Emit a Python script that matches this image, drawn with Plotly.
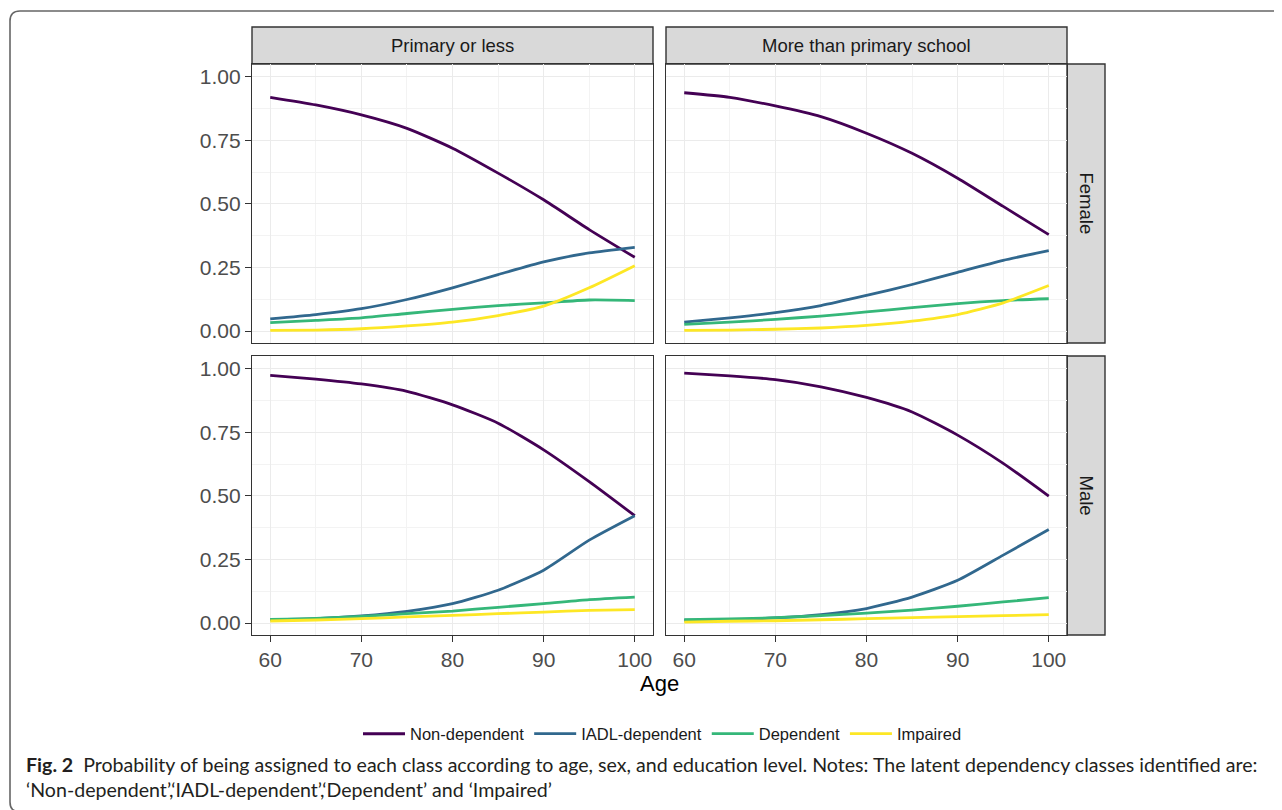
import plotly.graph_objects as go

# ---------------- data ----------------
ages = [60, 65, 70, 75, 80, 85, 90, 95, 100]
classes = ["Non-dependent", "IADL-dependent", "Dependent", "Impaired"]
colors = ["#440154", "#31688E", "#35B779", "#FDE725"]
col_labels = ["Primary or less", "More than primary school"]
row_labels = ["Female", "Male"]
x_ticks = [60, 70, 80, 90, 100]
y_ticks = [0.0, 0.25, 0.5, 0.75, 1.0]
y_tick_labels = ["0.00", "0.25", "0.50", "0.75", "1.00"]

# Female, Primary or less
f_prim_nondep = [0.919, 0.889, 0.850, 0.797, 0.719, 0.621, 0.516, 0.399, 0.290]
f_prim_iadl   = [0.048, 0.065, 0.088, 0.124, 0.170, 0.222, 0.272, 0.307, 0.329]
f_prim_dep    = [0.033, 0.042, 0.052, 0.069, 0.085, 0.100, 0.111, 0.122, 0.120]
f_prim_imp    = [0.003, 0.004, 0.009, 0.020, 0.035, 0.061, 0.098, 0.170, 0.257]
# Female, More than primary school
f_more_nondep = [0.937, 0.919, 0.885, 0.843, 0.778, 0.699, 0.601, 0.490, 0.379]
f_more_iadl   = [0.035, 0.052, 0.072, 0.100, 0.140, 0.183, 0.231, 0.278, 0.316]
f_more_dep    = [0.026, 0.035, 0.046, 0.059, 0.075, 0.092, 0.108, 0.120, 0.127]
f_more_imp    = [0.003, 0.004, 0.007, 0.012, 0.022, 0.039, 0.065, 0.111, 0.179]
# Male, Primary or less
m_prim_nondep = [0.974, 0.959, 0.940, 0.911, 0.858, 0.786, 0.681, 0.556, 0.422]
m_prim_iadl   = [0.013, 0.017, 0.028, 0.046, 0.076, 0.129, 0.208, 0.326, 0.422]
m_prim_dep    = [0.014, 0.018, 0.026, 0.037, 0.047, 0.062, 0.076, 0.092, 0.102]
m_prim_imp    = [0.008, 0.012, 0.017, 0.024, 0.030, 0.037, 0.043, 0.050, 0.053]
# Male, More than primary school
m_more_nondep = [0.983, 0.972, 0.957, 0.929, 0.887, 0.830, 0.739, 0.628, 0.499]
m_more_iadl   = [0.011, 0.013, 0.020, 0.033, 0.057, 0.102, 0.168, 0.267, 0.368]
m_more_dep    = [0.013, 0.016, 0.021, 0.029, 0.039, 0.051, 0.066, 0.083, 0.100]
m_more_imp    = [0.004, 0.007, 0.009, 0.013, 0.017, 0.021, 0.025, 0.029, 0.033]

panels = [
    [[f_prim_nondep, f_prim_iadl, f_prim_dep, f_prim_imp],
     [f_more_nondep, f_more_iadl, f_more_dep, f_more_imp]],
    [[m_prim_nondep, m_prim_iadl, m_prim_dep, m_prim_imp],
     [m_more_nondep, m_more_iadl, m_more_dep, m_more_imp]],
]

caption_bold = "Fig. 2"
caption_line1 = ("Probability of being assigned to each class according to age, sex, and education level. "
                 "Notes: The latent dependency classes identified are:")
caption_line2 = "\u2018Non-dependent\u2019,\u2018IADL-dependent\u2019,\u2018Dependent\u2019 and \u2018Impaired\u2019"

# ---------------- layout geometry (pixels in the page) ----------------
W, H = 1282, 810
OX, OY = 8, 8   # page body margin offset


def X(px):
    return (px - OX) / W


def Y(py):
    return 1 - (py - OY) / H


col_px = [(252, 653), (666, 1067)]
row_px = [(64, 343), (356, 635)]
strip_top = (27, 64)
strip_right = (1067, 1105)

FONT = "Liberation Sans, Arial, sans-serif"
BORDER = "#333333"
GRID = "#EBEBEB"
MINOR = "#F3F3F3"

fig = go.Figure()

for r in range(2):
    for c in range(2):
        idx = r * 2 + c + 1
        xa = "x" if idx == 1 else f"x{idx}"
        ya = "y" if idx == 1 else f"y{idx}"
        for k, cls in enumerate(classes):
            fig.add_trace(go.Scatter(
                x=ages, y=panels[r][c][k], mode="lines",
                line=dict(color=colors[k], width=2.8, shape="spline", smoothing=0.6),
                name=cls, legendgroup=cls, showlegend=(idx == 1),
                xaxis=xa, yaxis=ya, hoverinfo="skip",
            ))
        xkey = "xaxis" if idx == 1 else f"xaxis{idx}"
        ykey = "yaxis" if idx == 1 else f"yaxis{idx}"
        bottom = (r == 1)
        left = (c == 0)
        fig.layout[xkey] = dict(
            domain=[X(col_px[c][0]), X(col_px[c][1])],
            anchor=ya, range=[58, 102],
            tickvals=x_ticks, ticktext=[str(t) for t in x_ticks],
            showticklabels=bottom, ticks="outside" if bottom else "",
            ticklen=6, tickwidth=1.2, tickcolor=BORDER,
            tickfont=dict(family=FONT, size=21, color="#4D4D4D"),
            showgrid=True, gridcolor=GRID, gridwidth=1.4,
            minor=dict(tickvals=[65, 75, 85, 95], showgrid=True, gridcolor=MINOR, gridwidth=0.9, ticks=""),
            showline=True, mirror=True, linecolor=BORDER, linewidth=1.4,
            zeroline=False, fixedrange=True,
        )
        fig.layout[ykey] = dict(
            domain=[Y(row_px[r][1]), Y(row_px[r][0])],
            anchor=xa, range=[-0.047, 1.05],
            tickvals=y_ticks, ticktext=y_tick_labels,
            showticklabels=left, ticks="outside" if left else "",
            ticklen=6, tickwidth=1.2, tickcolor=BORDER,
            tickfont=dict(family=FONT, size=21, color="#4D4D4D"),
            showgrid=True, gridcolor=GRID, gridwidth=1.4,
            minor=dict(tickvals=[0.125, 0.375, 0.625, 0.875], showgrid=True, gridcolor=MINOR, gridwidth=0.9, ticks=""),
            showline=True, mirror=True, linecolor=BORDER, linewidth=1.4,
            zeroline=False, fixedrange=True,
        )

shapes = []
annotations = []
# top strips
for c in range(2):
    shapes.append(dict(type="rect", xref="paper", yref="paper",
                       x0=X(col_px[c][0]), x1=X(col_px[c][1]),
                       y0=Y(strip_top[1]), y1=Y(strip_top[0]),
                       fillcolor="#D9D9D9", line=dict(color=BORDER, width=1.4), layer="below"))
    annotations.append(dict(text=col_labels[c], xref="paper", yref="paper",
                            x=X((col_px[c][0] + col_px[c][1]) / 2),
                            y=Y((strip_top[0] + strip_top[1]) / 2),
                            showarrow=False, xanchor="center", yanchor="middle",
                            font=dict(family=FONT, size=18.5, color="#1A1A1A")))
# right strips
for r in range(2):
    shapes.append(dict(type="rect", xref="paper", yref="paper",
                       x0=X(strip_right[0]), x1=X(strip_right[1]),
                       y0=Y(row_px[r][1]), y1=Y(row_px[r][0]),
                       fillcolor="#D9D9D9", line=dict(color=BORDER, width=1.4), layer="below"))
    annotations.append(dict(text=row_labels[r], xref="paper", yref="paper",
                            x=X((strip_right[0] + strip_right[1]) / 2),
                            y=Y((row_px[r][0] + row_px[r][1]) / 2),
                            showarrow=False, xanchor="center", yanchor="middle", textangle=90,
                            font=dict(family=FONT, size=18.5, color="#1A1A1A")))

# axis title
annotations.append(dict(text="Age", xref="paper", yref="paper",
                        x=X(659.5), y=Y(683), showarrow=False,
                        xanchor="center", yanchor="middle",
                        font=dict(family=FONT, size=22, color="#000000")))

# caption
CAP_FONT = "Lato, Roboto, sans-serif"
annotations.append(dict(text=f"<b>{caption_bold}</b>  {caption_line1}", xref="paper", yref="paper",
                        x=X(24), y=Y(764), showarrow=False, xanchor="left", yanchor="middle",
                        font=dict(family=CAP_FONT, size=19.6, color="#231F20")))
annotations.append(dict(text=caption_line2, xref="paper", yref="paper",
                        x=X(24), y=Y(789), showarrow=False, xanchor="left", yanchor="middle",
                        font=dict(family=CAP_FONT, size=19.6, color="#231F20")))

# rounded outer frame
x0p, y0p, x1p, y1p, rad = 10, 11, 1300, 812, 10
path = (f"M {X(x1p)},{Y(y0p)} L {X(x0p + rad)},{Y(y0p)} "
        f"Q {X(x0p)},{Y(y0p)} {X(x0p)},{Y(y0p + rad)} "
        f"L {X(x0p)},{Y(y1p - rad)} Q {X(x0p)},{Y(y1p)} {X(x0p + rad)},{Y(y1p)} "
        f"L {X(x1p)},{Y(y1p)}")
shapes.append(dict(type="path", xref="paper", yref="paper", path=path,
                   line=dict(color="#666666", width=1.6)))

fig.update_layout(
    width=W, height=H,
    margin=dict(l=0, r=0, t=0, b=0),
    paper_bgcolor="white", plot_bgcolor="white",
    shapes=shapes, annotations=annotations,
    showlegend=True,
    legend=dict(orientation="h", x=X(358), y=Y(734), xanchor="left", yanchor="middle",
                font=dict(family=FONT, size=16.5, color="#1A1A1A"),
                itemwidth=42, tracegroupgap=0, bgcolor="rgba(0,0,0,0)"),
)

fig.write_html("out.html")
